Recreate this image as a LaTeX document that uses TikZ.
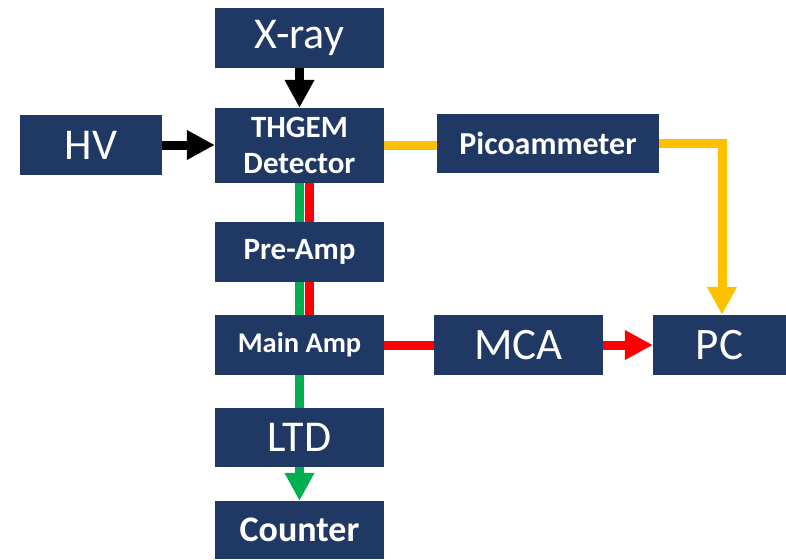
\documentclass[tikz,border=0pt]{standalone}
\usepackage{fontspec}
\setmainfont{Carlito}
\usepackage{tikz}
\usetikzlibrary{arrows.meta}
\definecolor{navy}{HTML}{203864}
\definecolor{gold}{HTML}{FFC000}
\definecolor{sigred}{HTML}{FF0000}
\definecolor{siggreen}{HTML}{00B050}
\tikzset{
  >={Triangle[length=28pt,width=28pt]},
  unit/.style={
    fill=navy,
    text=white,
    inner sep=0pt,
    minimum width=169pt,
    minimum height=60pt,
    align=center,
  },
  big/.style={font=\fontsize{44}{52}\selectfont},
  heavy/.style={font=\fontsize{#1}{36}\selectfont\bfseries},
  wire/.style={line width=9pt},
}

\begin{document}
\begin{tikzpicture}[x=1pt,y=-1pt]
  \useasboundingbox (0,0) rectangle (786,559);

  % source and detector
  \node[unit, big] (xray) at (299.5,38) {X-ray};
  \node[unit, big, minimum width=142pt] (hv) at (91,145) {HV};
  \node[unit, heavy=31, minimum height=75pt] (thgem) at (299.5,145.5) {THGEM\\Detector};
  \node[unit, heavy=32, minimum width=222pt, minimum height=59pt] (pico) at (548,143.5) {Picoammeter};

  % signal chain
  \node[unit, heavy=31] (pre) at (299.5,252) {Pre-Amp};
  \node[unit, heavy=28.5] (main) at (299.5,345) {Main Amp};
  \node[unit, big, minimum height=59pt] (ltd) at (299.5,437.5) {LTD};
  \node[unit, heavy=36, minimum height=58pt] (counter) at (299.5,530) {Counter};
  \node[unit, font=\fontsize{45}{52}\selectfont] (mca) at (518.5,345) {MCA};
  \node[unit, font=\fontsize{45}{52}\selectfont, minimum width=133pt] (pc) at (719.5,345) {PC};

  % connections
  \draw[wire, ->] (xray.south) -- (thgem.north);
  \draw[wire, ->] (hv.east) -- (hv.east -| thgem.west);
  \draw[wire, gold] (thgem.east) -- (thgem.east -| pico.west);
  \draw[wire, gold, ->] (pico.east) -| ([xshift=2.5pt]pc.north);

  \draw[wire, siggreen] (thgem.south) -- (pre.north);
  \draw[wire, sigred] ([xshift=10pt]thgem.south) -- ([xshift=10pt]pre.north);
  \draw[wire, siggreen] (pre.south) -- (main.north);
  \draw[wire, sigred] ([xshift=10pt]pre.south) -- ([xshift=10pt]main.north);
  \draw[wire, siggreen] (main.south) -- (ltd.north);
  \draw[wire, siggreen, ->] (ltd.south) -- (counter.north);

  \draw[wire, sigred] (main.east) -- (mca.west);
  \draw[wire, sigred, ->] (mca.east) -- (pc.west);
\end{tikzpicture}
\end{document}
